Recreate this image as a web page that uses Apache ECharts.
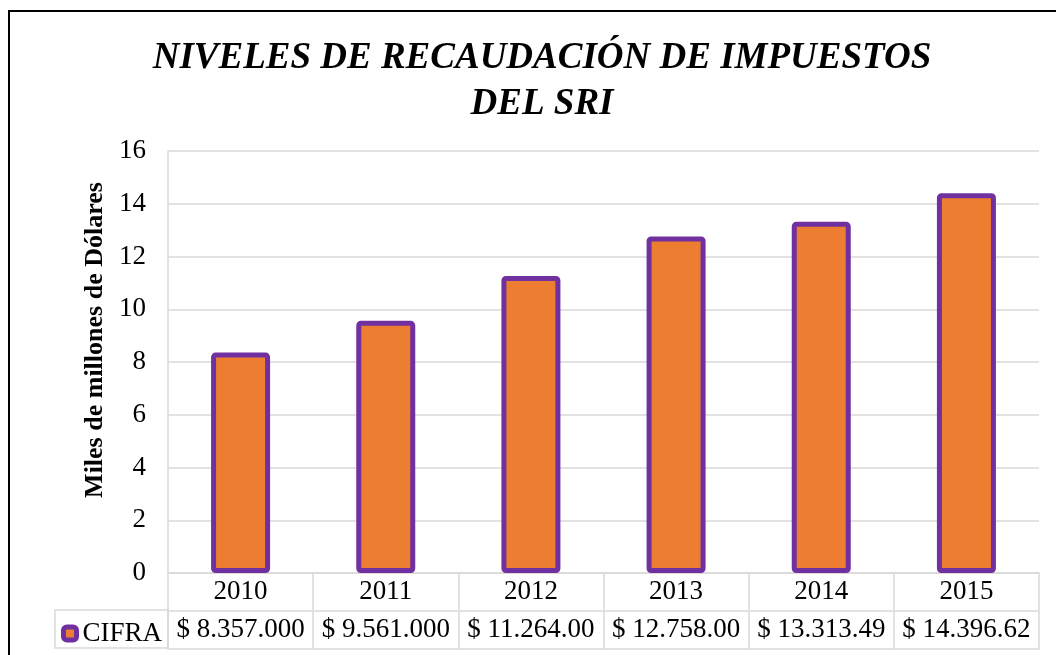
<!DOCTYPE html>
<html>
<head>
<meta charset="utf-8">
<script src="https://cdn.jsdelivr.net/npm/echarts@6/dist/echarts.min.js"></script>
<style>
  html, body { margin: 0; padding: 0; background: #fff; }
  #chart { width: 1056px; height: 655px; }
</style>
</head>
<body>
<div id="chart"></div>
<script>
// datos del grafico
var years = ['2010', '2011', '2012', '2013', '2014', '2015'];
var cifra = [8.357, 9.561, 11.264, 12.758, 13.31349, 14.39662];   // miles de millones
var cifraLabels = ['$ 8.357.000', '$ 9.561.000', '$ 11.264.00', '$ 12.758.00', '$ 13.313.49', '$ 14.396.62'];
var yTicks = [0, 2, 4, 6, 8, 10, 12, 14, 16];

var serif = 'Liberation Serif, Times New Roman, serif';
var gray = '#D9D9D9';

var chart = echarts.init(document.getElementById('chart'));

var option = {
    backgroundColor: '#fff',
    animation: false,
    title: {
        text: 'NIVELES DE RECAUDACIÓN DE IMPUESTOS\nDEL SRI',
        left: 537,
        textAlign: 'center',
        top: 30,
        textStyle: {
            fontFamily: serif,
            fontSize: 37,
            fontWeight: 'bold',
            fontStyle: 'italic',
            color: '#000',
            lineHeight: 46
        }
    },
    legend: {
        data: ['CIFRA'],
        left: 56,
        top: 615,
        icon: 'roundRect',
        itemWidth: 13,
        itemHeight: 13,
        itemGap: 5,
        itemStyle: { borderWidth: 5, borderColor: '#7030A0', color: '#ED7D31' },
        textStyle: { fontFamily: serif, fontSize: 27, color: '#000', padding: [0, 0, 0, 1] }
    },
    grid: { left: 168, right: 17, top: 151, bottom: 82 },
    xAxis: [
        {
            type: 'category',
            data: years,
            position: 'bottom',
            axisLine: { show: true, lineStyle: { color: gray, width: 1.5 } },
            axisTick: { show: true, interval: 0, length: 37, lineStyle: { color: gray, width: 1.5 } },
            axisLabel: { interval: 0, fontFamily: serif, fontSize: 27, color: '#000', margin: 5 }
        },
        {
            type: 'category',
            data: cifraLabels,
            position: 'bottom',
            offset: 38,
            axisLine: { show: true, lineStyle: { color: gray, width: 1.5 } },
            axisTick: { show: true, interval: 0, length: 38, lineStyle: { color: gray, width: 1.5 } },
            axisLabel: { interval: 0, fontFamily: serif, fontSize: 27, color: '#000', margin: 5 }
        },
        {
            type: 'category',
            data: years,
            position: 'bottom',
            offset: 76,
            axisLine: { show: true, lineStyle: { color: gray, width: 1.5 } },
            axisTick: { show: false },
            axisLabel: { show: false }
        }
    ],
    yAxis: {
        type: 'value',
        min: yTicks[0],
        max: yTicks[yTicks.length - 1],
        interval: 2,
        name: 'Miles de millones de Dólares',
        nameLocation: 'middle',
        nameGap: 58,
        nameTextStyle: {
            fontFamily: serif, fontSize: 26, fontWeight: 'bold', color: '#000',
            padding: [0, 0, 0, 44]
        },
        axisLine: { show: true, lineStyle: { color: gray, width: 1.5 } },
        axisTick: { show: false },
        axisLabel: { fontFamily: serif, fontSize: 27, color: '#000', margin: 22 },
        splitLine: { lineStyle: { color: gray, width: 1.5 } }
    },
    graphic: [
        // borde exterior
        {
            type: 'rect',
            shape: { x: 9, y: 11, width: 1100, height: 700 },
            style: { fill: 'none', stroke: '#000', lineWidth: 2 },
            silent: true
        },
        // celda de la leyenda en la tabla
        {
            type: 'rect',
            shape: { x: 55, y: 610, width: 113, height: 38 },
            style: { fill: 'none', stroke: gray, lineWidth: 1.5 },
            silent: true
        }
    ],
    series: [
        {
            name: 'CIFRA',
            type: 'bar',
            data: cifra,
            barWidth: 59,
            itemStyle: {
                color: '#ED7D31',
                borderColor: '#7030A0',
                borderWidth: 5,
                borderRadius: 2
            }
        }
    ]
};

chart.setOption(option);
</script>
</body>
</html>
